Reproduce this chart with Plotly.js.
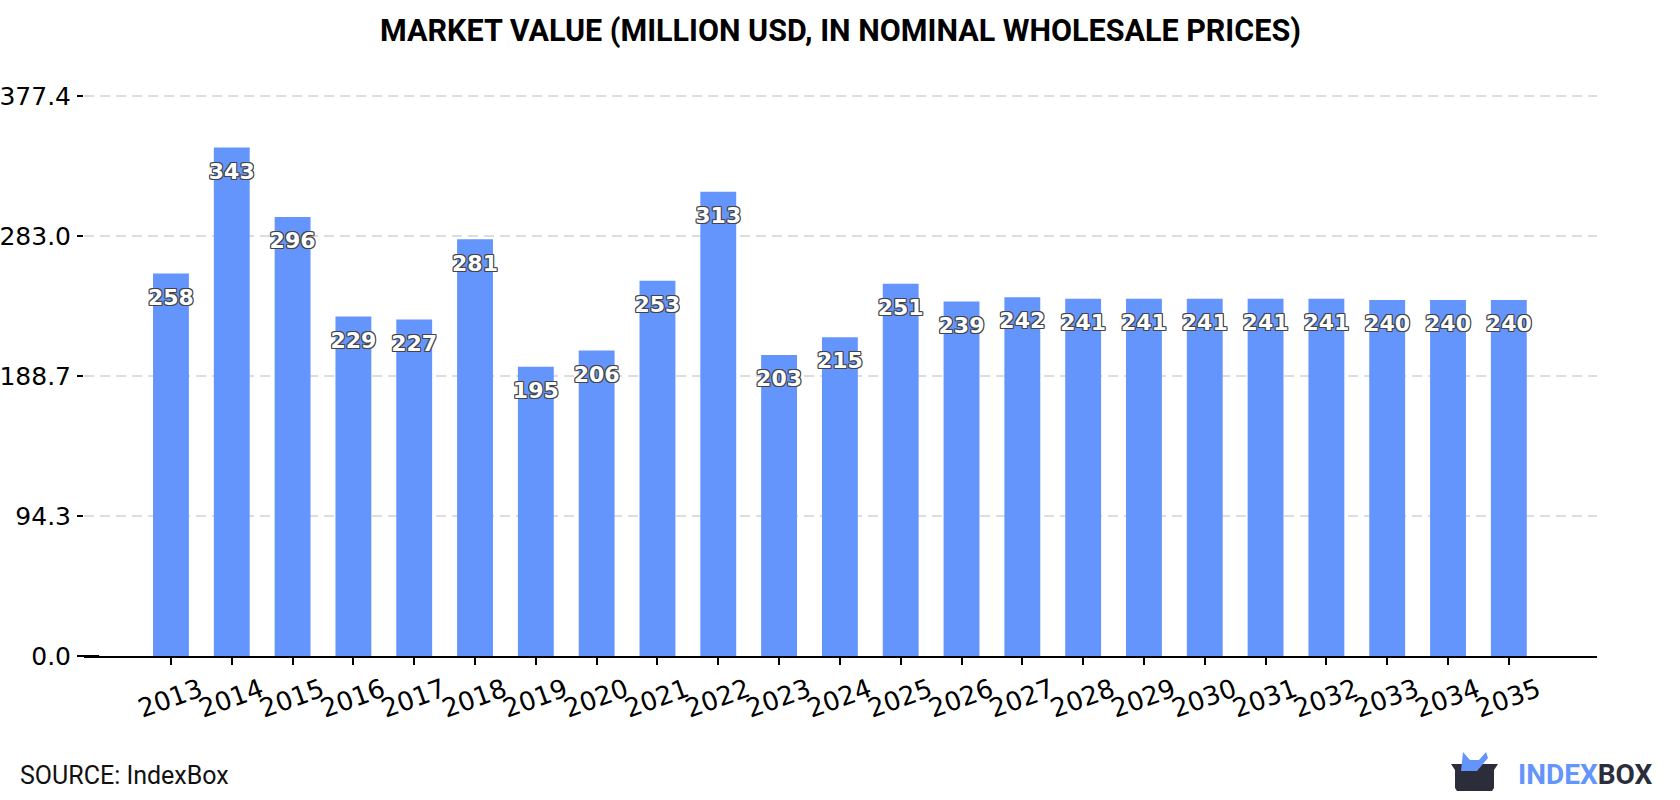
<!DOCTYPE html>
<html>
<head>
<meta charset="utf-8">
<script src="https://cdn.plot.ly/plotly-3.0.1.min.js"></script>
<style>html,body{margin:0;padding:0;background:#fff;}#chart{width:1680px;height:800px;}</style>
</head>
<body>
<div id="chart"></div>
<script>
const years = ["2013","2014","2015","2016","2017","2018","2019","2020","2021","2022","2023","2024","2025","2026","2027","2028","2029","2030","2031","2032","2033","2034","2035"];
const values = [258,343,296,229,227,281,195,206,253,313,203,215,251,239,242,241,241,241,241,241,240,240,240];
const labels = ["258","343","296","229","227","281","195","206","253","313","203","215","251","239","242","241","241","241","241","241","240","240","240"];
const yTickVals = [0, 94.3, 188.7, 283.0, 377.4];
const yTickText = ["0.0","94.3","188.7","283.0","377.4"];
const titleText = "MARKET VALUE (MILLION USD, IN NOMINAL WHOLESALE PRICES)";
const sourceText = "SOURCE: IndexBox";

// layout geometry (pixels)
const L = 84, R = 1597, T = 94, B = 656, W = 1680, H = 800;
const px = x => (x - L) / (R - L);
const py = y => (B - y) / (B - T);
function pathPx(cmds) {
  return cmds.map(c => c[0] === 'Z' ? 'Z' : c[0] + px(c[1]).toFixed(5) + ',' + py(c[2]).toFixed(5)).join(' ');
}

const outline = "-1px -1px 0 #444, 1px -1px 0 #444, -1px 1px 0 #444, 1px 1px 0 #444, 0 1px 0 #444, 0 -1px 0 #444, 1px 0 0 #444, -1px 0 0 #444";

const bars = {
  type: 'bar',
  x: years,
  y: values,
  marker: {color: '#6495fd'},
  hoverinfo: 'x+y'
};

const valueLabels = {
  type: 'scatter',
  mode: 'markers+text',
  x: years,
  y: values,
  text: labels,
  textposition: 'bottom center',
  marker: {size: 22, opacity: 0, color: '#6495fd'},
  textfont: {family: 'DejaVu Sans', size: 22, color: '#ffffff', weight: 'bold', shadow: outline},
  hoverinfo: 'skip',
  cliponaxis: false
};

const annotations = [];
annotations.push({
  x: px(18), y: py(775), xref: 'paper', yref: 'paper', xanchor: 'left', yanchor: 'middle',
  text: sourceText, showarrow: false,
  font: {family: 'Roboto', size: 25, color: '#111111'}
});
annotations.push({
  x: px(1516), y: py(774), xref: 'paper', yref: 'paper', xanchor: 'left', yanchor: 'middle',
  text: "<span style='color:#6495fd'>INDEX</span><span style='color:#2b2d3a'>BOX</span>", showarrow: false,
  font: {family: 'Roboto', size: 28, weight: 'bold', color: '#2b2d3a'}
});

const shapes = [
  {type: 'line', xref: 'paper', yref: 'paper', x0: px(78), x1: 0.01, y0: 0, y1: 0, line: {color: '#000', width: 2}},
  {type: 'path', xref: 'paper', yref: 'paper', fillcolor: '#2b2d3a', line: {width: 0},
   path: pathPx([['M',1451,764],['L',1498,764],['L',1494,770],['L',1494,788],['L',1492,791],['L',1457,791],['L',1455,788],['L',1455,770],['Z']])},
  {type: 'path', xref: 'paper', yref: 'paper', fillcolor: '#6495fd', line: {width: 0},
   path: pathPx([['M',1461,771],['L',1463,752],['L',1470,760],['L',1479,760],['L',1486,752],['L',1488,758],['L',1477,771],['Z']])}
];

const layout = {
  width: W, height: H,
  margin: {l: L, r: W - R, t: T, b: H - B, pad: 0},
  paper_bgcolor: '#ffffff', plot_bgcolor: '#ffffff',
  showlegend: false,
  bargap: 0.41,
  title: {text: titleText, x: 0.5, xref: 'paper', xanchor: 'center', y: 1 - 30 / H, yref: 'container', yanchor: 'middle',
          font: {family: 'Roboto', size: 30.5, weight: 'bold', color: '#000'}},
  xaxis: {
    type: 'category', range: [-1.43, 23.45],
    showline: true, linecolor: '#000', linewidth: 2,
    ticks: 'outside', ticklen: 7, tickwidth: 2, tickcolor: '#000',
    tickangle: -20, ticklabelshift: 29,
    tickfont: {family: 'DejaVu Sans', size: 26, color: '#000'},
    showgrid: false, zeroline: false, fixedrange: true
  },
  yaxis: {
    range: [0, 379], tickmode: 'array', tickvals: yTickVals, ticktext: yTickText,
    ticks: 'outside', ticklen: 6, tickwidth: 2, tickcolor: '#000', ticklabelstandoff: 1,
    tickfont: {family: 'DejaVu Sans', size: 25, color: '#000'},
    showline: false, zeroline: false,
    showgrid: true, gridcolor: '#dddddd', gridwidth: 2, griddash: '10px,6px',
    fixedrange: true
  },
  annotations: annotations,
  shapes: shapes
};

Plotly.newPlot('chart', [bars, valueLabels], layout, {displayModeBar: false, staticPlot: true});
</script>
</body>
</html>
